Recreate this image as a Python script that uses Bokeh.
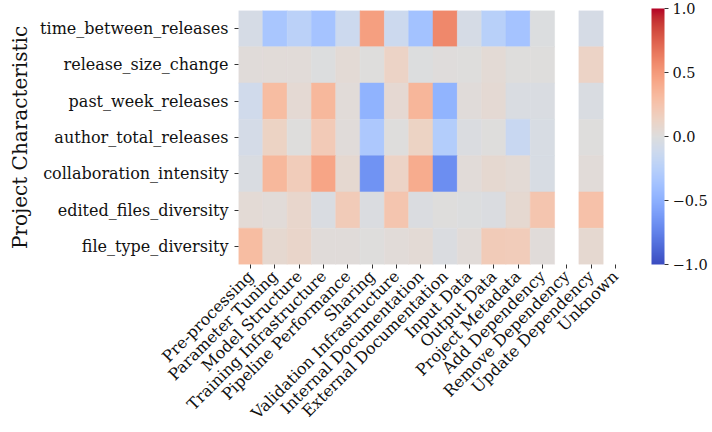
import math
from bokeh.plotting import figure
from bokeh.models import ColumnDataSource, LinearColorMapper, ColorBar, FixedTicker, FactorRange
from bokeh.transform import transform
from bokeh.embed import file_html
from bokeh.resources import INLINE

NAN = float("nan")

categories = ["Pre-processing", "Parameter Tuning", "Model Structure", "Training Infrastructure",
              "Pipeline Performance", "Sharing", "Validation Infrastructure", "Internal Documentation",
              "External Documentation", "Input Data", "Output Data", "Project Metadata",
              "Add Dependency", "Remove Dependency", "Update Dependency", "Unknown"]

characteristics = ["time_between_releases", "release_size_change", "past_week_releases",
                   "author_total_releases", "collaboration_intensity", "edited_files_diversity",
                   "file_type_diversity"]

time_between_releases = [-0.06, -0.34, -0.23, -0.36, -0.12, 0.47, -0.12, -0.37, 0.58, -0.06, -0.25, -0.36, -0.01, NAN, -0.06]
release_size_change = [0.02, 0.03, 0.03, -0.005, 0.04, 0.0, 0.12, -0.005, 0.01, 0.0, 0.04, 0.0, 0.0, NAN, 0.12]
past_week_releases = [-0.10, 0.30, 0.05, 0.33, 0.03, -0.48, 0.06, 0.34, -0.47, 0.02, 0.05, -0.03, -0.03, NAN, -0.03]
author_total_releases = [-0.07, 0.13, 0.0, 0.20, 0.02, -0.32, 0.0, 0.13, -0.28, -0.02, 0.0, -0.15, -0.04, NAN, 0.0]
collaboration_intensity = [-0.03, 0.33, 0.18, 0.44, 0.07, -0.66, 0.12, 0.40, -0.68, 0.03, 0.07, 0.04, -0.04, NAN, 0.03]
edited_files_diversity = [0.04, 0.03, 0.09, -0.03, 0.19, -0.02, 0.24, -0.02, 0.005, -0.005, -0.02, 0.07, 0.24, NAN, 0.27]
file_type_diversity = [0.30, 0.07, 0.10, 0.02, 0.02, 0.0, 0.03, 0.04, -0.02, 0.03, 0.19, 0.18, 0.02, NAN, 0.07]

rows = [time_between_releases, release_size_change, past_week_releases, author_total_releases,
        collaboration_intensity, edited_files_diversity, file_type_diversity]

colorbar_ticks = [-1, -0.5, 0, 0.5, 1]
colorbar_labels = ["\u22121.0", "\u22120.5", "0.0", "0.5", "1.0"]

# coolwarm anchor colours (Moreland diverging map)
_anchors = [
    (59, 76, 192), (68, 90, 204), (77, 104, 215), (87, 117, 225), (98, 130, 234), (108, 142, 241),
    (119, 154, 247), (130, 165, 251), (141, 176, 254), (152, 185, 255), (163, 194, 255), (174, 201, 253),
    (184, 208, 249), (194, 213, 244), (204, 217, 238), (213, 219, 230), (221, 221, 221), (229, 216, 209),
    (236, 211, 197), (241, 204, 185), (245, 196, 173), (247, 187, 160), (247, 177, 148), (247, 166, 135),
    (244, 154, 123), (241, 141, 111), (236, 127, 99), (229, 112, 88), (222, 96, 77), (213, 80, 66),
    (203, 62, 56), (192, 40, 47), (180, 4, 38)]


def _interp(t):
    pos = t * (len(_anchors) - 1)
    i = min(int(pos), len(_anchors) - 2)
    f = pos - i
    a, b = _anchors[i], _anchors[i + 1]
    return "#%02x%02x%02x" % tuple(int(round(a[k] + (b[k] - a[k]) * f)) for k in range(3))


coolwarm = [_interp(i / 255) for i in range(256)]

xs, ys, vs = [], [], []
for name, vals in zip(characteristics, rows):
    for cat, v in zip(categories, vals):
        if not math.isnan(v):
            xs.append(cat)
            ys.append(name)
            vs.append(v)

source = ColumnDataSource(dict(x=xs, y=ys, v=vs))
mapper = LinearColorMapper(palette=coolwarm, low=-1, high=1)

FONT = "DejaVu Serif"
W, H = 712, 432
LEFT, TOP, FW, FH = 238, 10, 389, 256

p = figure(x_range=FactorRange(factors=categories, range_padding=0),
           y_range=FactorRange(factors=list(reversed(characteristics)), range_padding=0),
           width=W, height=H,
           min_border_left=LEFT, min_border_top=TOP, min_border_right=W - LEFT - FW,
           min_border_bottom=H - TOP - FH,
           output_backend="svg", toolbar_location=None)

p.rect(x="x", y="y", width=1, height=1, source=source,
       fill_color=transform("v", mapper), line_color=transform("v", mapper), line_width=0.5)

p.outline_line_color = None
p.xgrid.grid_line_color = None
p.ygrid.grid_line_color = None
p.background_fill_color = "white"

for ax in (p.xaxis, p.yaxis):
    ax.axis_line_color = None
    ax.major_tick_line_color = "#333333"
    ax.major_tick_line_width = 1
    ax.major_tick_in = 0
    ax.major_tick_out = 4
    ax.minor_tick_line_color = None
    ax.major_label_text_font = FONT
    ax.major_label_text_font_size = "16px"
    ax.major_label_text_color = "#111111"

p.xaxis.major_label_orientation = math.pi / 4
p.xaxis.major_label_standoff = 5
p.yaxis.major_label_standoff = 6

p.yaxis.axis_label = "Project Characteristic"
p.yaxis.axis_label_text_font = FONT
p.yaxis.axis_label_text_font_size = "20px"
p.yaxis.axis_label_text_font_style = "normal"
p.yaxis.axis_label_text_color = "#111111"
p.yaxis.axis_label_standoff = 5

color_bar = ColorBar(color_mapper=mapper, width=13, height=FH, padding=0, margin=0,
                     location=(FW + 24, 0),
                     ticker=FixedTicker(ticks=colorbar_ticks),
                     major_label_overrides=dict(zip(colorbar_ticks, colorbar_labels)),
                     major_label_text_font=FONT, major_label_text_font_size="14.5px",
                     major_label_text_color="#111111",
                     major_tick_in=0, major_tick_out=4, major_tick_line_color="#333333",
                     minor_tick_line_color=None, bar_line_color=None, border_line_color=None,
                     background_fill_color=None, label_standoff=4)
p.add_layout(color_bar, "center")

open("out.html", "w").write(file_html(p, INLINE))
